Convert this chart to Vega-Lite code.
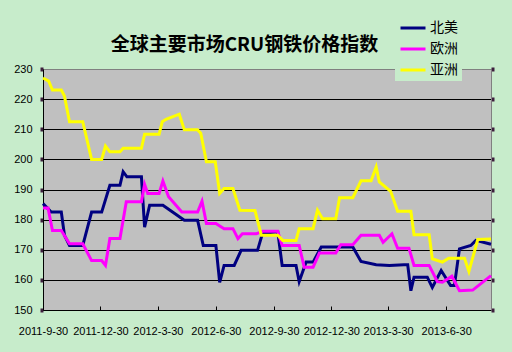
{
  "$schema": "https://vega.github.io/schema/vega-lite/v6.json",
  "width": 448,
  "height": 241,
  "autosize": {"type": "none"},
  "padding": {"left": 43, "top": 69, "right": 21, "bottom": 42},
  "background": "#c7eccb",
  "config": {
    "view": {"fill": "#c0c0c0", "stroke": "#808080", "strokeWidth": 1},
    "font": "Liberation Sans"
  },
  "title": {
    "text": "全球主要市场CRU钢铁价格指数",
    "anchor": "start",
    "dx": 97,
    "offset": -45,
    "font": "Noto Sans CJK SC",
    "fontSize": 19,
    "fontWeight": "bold",
    "color": "#000000"
  },
  "data": {
    "values": [
      {"date": "2011-09-30", "region": "北美", "value": 185.3},
      {"date": "2011-10-13", "region": "北美", "value": 182.5},
      {"date": "2011-10-29", "region": "北美", "value": 182.5},
      {"date": "2011-11-03", "region": "北美", "value": 174.8},
      {"date": "2011-11-11", "region": "北美", "value": 171.4},
      {"date": "2011-12-02", "region": "北美", "value": 171.4},
      {"date": "2011-12-16", "region": "北美", "value": 182.5},
      {"date": "2012-01-01", "region": "北美", "value": 182.5},
      {"date": "2012-01-14", "region": "北美", "value": 191.4},
      {"date": "2012-01-30", "region": "北美", "value": 191.4},
      {"date": "2012-02-04", "region": "北美", "value": 195.9},
      {"date": "2012-02-10", "region": "北美", "value": 194.2},
      {"date": "2012-03-04", "region": "北美", "value": 194.2},
      {"date": "2012-03-09", "region": "北美", "value": 177.5},
      {"date": "2012-03-17", "region": "北美", "value": 184.8},
      {"date": "2012-04-07", "region": "北美", "value": 184.8},
      {"date": "2012-05-11", "region": "北美", "value": 179.8},
      {"date": "2012-06-01", "region": "北美", "value": 179.8},
      {"date": "2012-06-10", "region": "北美", "value": 171.4},
      {"date": "2012-06-30", "region": "北美", "value": 171.4},
      {"date": "2012-07-06", "region": "北美", "value": 159.2},
      {"date": "2012-07-13", "region": "北美", "value": 164.8},
      {"date": "2012-07-29", "region": "北美", "value": 164.8},
      {"date": "2012-08-09", "region": "北美", "value": 169.8},
      {"date": "2012-09-04", "region": "北美", "value": 169.8},
      {"date": "2012-09-12", "region": "北美", "value": 175.5},
      {"date": "2012-10-06", "region": "北美", "value": 176.0},
      {"date": "2012-10-13", "region": "北美", "value": 164.8},
      {"date": "2012-11-04", "region": "北美", "value": 164.8},
      {"date": "2012-11-09", "region": "北美", "value": 159.4},
      {"date": "2012-11-20", "region": "北美", "value": 165.9},
      {"date": "2012-12-01", "region": "北美", "value": 165.9},
      {"date": "2012-12-14", "region": "北美", "value": 170.9},
      {"date": "2013-02-02", "region": "北美", "value": 170.9},
      {"date": "2013-02-15", "region": "北美", "value": 166.1},
      {"date": "2013-03-11", "region": "北美", "value": 165.0},
      {"date": "2013-04-01", "region": "北美", "value": 164.8},
      {"date": "2013-04-24", "region": "北美", "value": 165.0},
      {"date": "2013-04-30", "region": "北美", "value": 165.0},
      {"date": "2013-05-05", "region": "北美", "value": 156.4},
      {"date": "2013-05-10", "region": "北美", "value": 160.9},
      {"date": "2013-05-31", "region": "北美", "value": 160.9},
      {"date": "2013-06-08", "region": "北美", "value": 157.5},
      {"date": "2013-06-22", "region": "北美", "value": 163.1},
      {"date": "2013-07-07", "region": "北美", "value": 158.1},
      {"date": "2013-07-13", "region": "北美", "value": 158.1},
      {"date": "2013-07-21", "region": "北美", "value": 170.3},
      {"date": "2013-08-08", "region": "北美", "value": 171.4},
      {"date": "2013-08-16", "region": "北美", "value": 173.1},
      {"date": "2013-09-09", "region": "北美", "value": 171.8},

      {"date": "2011-09-30", "region": "欧洲", "value": 183.9},
      {"date": "2011-10-08", "region": "欧洲", "value": 183.9},
      {"date": "2011-10-15", "region": "欧洲", "value": 176.4},
      {"date": "2011-10-29", "region": "欧洲", "value": 176.4},
      {"date": "2011-11-11", "region": "欧洲", "value": 172.0},
      {"date": "2011-12-02", "region": "欧洲", "value": 172.0},
      {"date": "2011-12-16", "region": "欧洲", "value": 166.4},
      {"date": "2012-01-01", "region": "欧洲", "value": 166.4},
      {"date": "2012-01-07", "region": "欧洲", "value": 164.8},
      {"date": "2012-01-14", "region": "欧洲", "value": 173.7},
      {"date": "2012-01-30", "region": "欧洲", "value": 173.7},
      {"date": "2012-02-09", "region": "欧洲", "value": 185.9},
      {"date": "2012-03-04", "region": "欧洲", "value": 185.9},
      {"date": "2012-03-09", "region": "欧洲", "value": 191.7},
      {"date": "2012-03-14", "region": "欧洲", "value": 188.7},
      {"date": "2012-04-01", "region": "欧洲", "value": 188.7},
      {"date": "2012-04-07", "region": "欧洲", "value": 192.8},
      {"date": "2012-04-16", "region": "欧洲", "value": 187.6},
      {"date": "2012-05-07", "region": "欧洲", "value": 182.5},
      {"date": "2012-06-01", "region": "欧洲", "value": 182.5},
      {"date": "2012-06-08", "region": "欧洲", "value": 186.1},
      {"date": "2012-06-15", "region": "欧洲", "value": 178.7},
      {"date": "2012-06-30", "region": "欧洲", "value": 178.7},
      {"date": "2012-07-13", "region": "欧洲", "value": 177.0},
      {"date": "2012-07-27", "region": "欧洲", "value": 177.0},
      {"date": "2012-08-04", "region": "欧洲", "value": 173.7},
      {"date": "2012-08-11", "region": "欧洲", "value": 175.3},
      {"date": "2012-09-02", "region": "欧洲", "value": 175.3},
      {"date": "2012-09-12", "region": "欧洲", "value": 176.1},
      {"date": "2012-10-06", "region": "欧洲", "value": 176.1},
      {"date": "2012-10-13", "region": "欧洲", "value": 171.4},
      {"date": "2012-11-09", "region": "欧洲", "value": 171.4},
      {"date": "2012-11-17", "region": "欧洲", "value": 164.2},
      {"date": "2012-12-01", "region": "欧洲", "value": 164.2},
      {"date": "2012-12-11", "region": "欧洲", "value": 168.9},
      {"date": "2013-01-06", "region": "欧洲", "value": 168.9},
      {"date": "2013-01-14", "region": "欧洲", "value": 171.7},
      {"date": "2013-02-02", "region": "欧洲", "value": 171.7},
      {"date": "2013-02-15", "region": "欧洲", "value": 174.8},
      {"date": "2013-03-16", "region": "欧洲", "value": 174.8},
      {"date": "2013-03-22", "region": "欧洲", "value": 172.5},
      {"date": "2013-04-05", "region": "欧洲", "value": 175.3},
      {"date": "2013-04-14", "region": "欧洲", "value": 170.5},
      {"date": "2013-05-02", "region": "欧洲", "value": 170.5},
      {"date": "2013-05-10", "region": "欧洲", "value": 164.8},
      {"date": "2013-06-03", "region": "欧洲", "value": 164.8},
      {"date": "2013-06-16", "region": "欧洲", "value": 159.4},
      {"date": "2013-06-24", "region": "欧洲", "value": 159.2},
      {"date": "2013-07-09", "region": "欧洲", "value": 161.2},
      {"date": "2013-07-21", "region": "欧洲", "value": 156.4},
      {"date": "2013-08-11", "region": "欧洲", "value": 156.6},
      {"date": "2013-09-09", "region": "欧洲", "value": 161.4},

      {"date": "2011-09-30", "region": "亚洲", "value": 227.0},
      {"date": "2011-10-09", "region": "亚洲", "value": 226.0},
      {"date": "2011-10-15", "region": "亚洲", "value": 223.0},
      {"date": "2011-10-29", "region": "亚洲", "value": 223.0},
      {"date": "2011-11-03", "region": "亚洲", "value": 221.0},
      {"date": "2011-11-11", "region": "亚洲", "value": 212.5},
      {"date": "2011-12-02", "region": "亚洲", "value": 212.5},
      {"date": "2011-12-16", "region": "亚洲", "value": 200.0},
      {"date": "2012-01-01", "region": "亚洲", "value": 200.0},
      {"date": "2012-01-07", "region": "亚洲", "value": 204.4},
      {"date": "2012-01-14", "region": "亚洲", "value": 202.5},
      {"date": "2012-01-30", "region": "亚洲", "value": 202.5},
      {"date": "2012-02-04", "region": "亚洲", "value": 203.7},
      {"date": "2012-03-04", "region": "亚洲", "value": 203.7},
      {"date": "2012-03-09", "region": "亚洲", "value": 208.3},
      {"date": "2012-04-01", "region": "亚洲", "value": 208.3},
      {"date": "2012-04-06", "region": "亚洲", "value": 212.5},
      {"date": "2012-04-12", "region": "亚洲", "value": 213.3},
      {"date": "2012-05-03", "region": "亚洲", "value": 215.0},
      {"date": "2012-05-11", "region": "亚洲", "value": 209.8},
      {"date": "2012-06-01", "region": "亚洲", "value": 209.8},
      {"date": "2012-06-06", "region": "亚洲", "value": 208.7},
      {"date": "2012-06-15", "region": "亚洲", "value": 199.2},
      {"date": "2012-06-29", "region": "亚洲", "value": 199.2},
      {"date": "2012-07-06", "region": "亚洲", "value": 188.7},
      {"date": "2012-07-13", "region": "亚洲", "value": 190.3},
      {"date": "2012-07-27", "region": "亚洲", "value": 190.3},
      {"date": "2012-08-07", "region": "亚洲", "value": 183.1},
      {"date": "2012-08-31", "region": "亚洲", "value": 183.0},
      {"date": "2012-09-10", "region": "亚洲", "value": 174.8},
      {"date": "2012-10-06", "region": "亚洲", "value": 174.8},
      {"date": "2012-10-14", "region": "亚洲", "value": 173.1},
      {"date": "2012-11-04", "region": "亚洲", "value": 173.1},
      {"date": "2012-11-09", "region": "亚洲", "value": 177.0},
      {"date": "2012-12-01", "region": "亚洲", "value": 177.0},
      {"date": "2012-12-08", "region": "亚洲", "value": 183.1},
      {"date": "2012-12-16", "region": "亚洲", "value": 180.3},
      {"date": "2013-01-06", "region": "亚洲", "value": 180.3},
      {"date": "2013-01-12", "region": "亚洲", "value": 187.3},
      {"date": "2013-02-02", "region": "亚洲", "value": 187.3},
      {"date": "2013-02-15", "region": "亚洲", "value": 192.9},
      {"date": "2013-03-03", "region": "亚洲", "value": 192.9},
      {"date": "2013-03-11", "region": "亚洲", "value": 197.5},
      {"date": "2013-03-16", "region": "亚洲", "value": 192.5},
      {"date": "2013-04-03", "region": "亚洲", "value": 189.4},
      {"date": "2013-04-14", "region": "亚洲", "value": 182.8},
      {"date": "2013-05-05", "region": "亚洲", "value": 182.8},
      {"date": "2013-05-10", "region": "亚洲", "value": 175.0},
      {"date": "2013-06-03", "region": "亚洲", "value": 175.0},
      {"date": "2013-06-08", "region": "亚洲", "value": 167.0},
      {"date": "2013-06-24", "region": "亚洲", "value": 165.9},
      {"date": "2013-07-04", "region": "亚洲", "value": 167.2},
      {"date": "2013-07-29", "region": "亚洲", "value": 167.2},
      {"date": "2013-08-05", "region": "亚洲", "value": 162.8},
      {"date": "2013-08-19", "region": "亚洲", "value": 173.4},
      {"date": "2013-09-09", "region": "亚洲", "value": 173.6}
    ]
  },
  "resolve": {"axis": {"y": "independent"}},
  "layer": [
    {
      "mark": {"type": "line", "strokeWidth": 3, "interpolate": "linear"},
      "encoding": {
        "x": {
          "field": "date",
          "type": "temporal",
          "scale": {
            "type": "utc",
            "domain": [
              {"year": 2011, "month": 9, "date": 30, "utc": true},
              {"year": 2013, "month": 9, "date": 9, "utc": true}
            ]
          },
          "axis": {
            "title": null,
            "values": [
              {"year": 2011, "month": 9, "date": 30, "utc": true},
              {"year": 2011, "month": 12, "date": 30, "utc": true},
              {"year": 2012, "month": 3, "date": 30, "utc": true},
              {"year": 2012, "month": 6, "date": 30, "utc": true},
              {"year": 2012, "month": 9, "date": 30, "utc": true},
              {"year": 2012, "month": 12, "date": 30, "utc": true},
              {"year": 2013, "month": 3, "date": 30, "utc": true},
              {"year": 2013, "month": 6, "date": 30, "utc": true}
            ],
            "labelExpr": "utcFormat(datum.value, '%Y-%-m-%-d')",
            "labelFont": "Liberation Sans",
            "labelFontSize": 11,
            "labelColor": "#000000",
            "labelPadding": 19,
            "labelOverlap": false,
            "labelFlush": false,
            "tickSize": -4,
            "tickColor": "#000000",
            "tickWidth": 1,
            "domainColor": "#000000",
            "domainWidth": 1,
            "grid": false
          }
        },
        "y": {
          "field": "value",
          "type": "quantitative",
          "scale": {"domain": [150, 230], "nice": false, "zero": false},
          "axis": {
            "title": null,
            "values": [150, 160, 170, 180, 190, 200, 210, 220, 230],
            "labelFont": "Liberation Sans",
            "labelFontSize": 11,
            "labelColor": "#000000",
            "labelPadding": 8,
            "tickSize": 3,
            "tickWidth": 4,
            "tickColor": "#3d1f3d",
            "domainColor": "#000000",
            "domainWidth": 1,
            "grid": true,
            "gridColor": {"condition": {"test": "datum.value == 230", "value": "#808080"}, "value": "#000000"},
            "gridWidth": 1,
            "gridOpacity": 1
          }
        },
        "color": {
          "field": "region",
          "type": "nominal",
          "sort": ["北美", "欧洲", "亚洲"],
          "scale": {"domain": ["北美", "欧洲", "亚洲"], "range": ["#000080", "#ff00ff", "#ffff00"]},
          "legend": {
            "title": null,
            "orient": "none",
            "legendX": 352,
            "legendY": -59,
            "fillColor": "#c7eccb",
            "padding": 4,
            "symbolType": "stroke",
            "symbolSize": 625,
            "symbolStrokeWidth": 3,
            "labelFont": "Noto Sans CJK SC",
            "labelFontSize": 14,
            "labelColor": "#000000",
            "labelOffset": 3,
            "rowPadding": -6
          }
        }
      }
    },
    {
      "mark": {"type": "line", "opacity": 0},
      "encoding": {
        "x": {"field": "date", "type": "temporal"},
        "y": {
          "field": "value",
          "type": "quantitative",
          "axis": {
            "orient": "right",
            "title": null,
            "values": [150, 160, 170, 180, 190, 200, 210, 220, 230],
            "labels": false,
            "tickSize": 3,
            "tickWidth": 4,
            "tickColor": "#3d1f3d",
            "domainColor": "#808080",
            "grid": false
          }
        }
      }
    }
  ]
}
